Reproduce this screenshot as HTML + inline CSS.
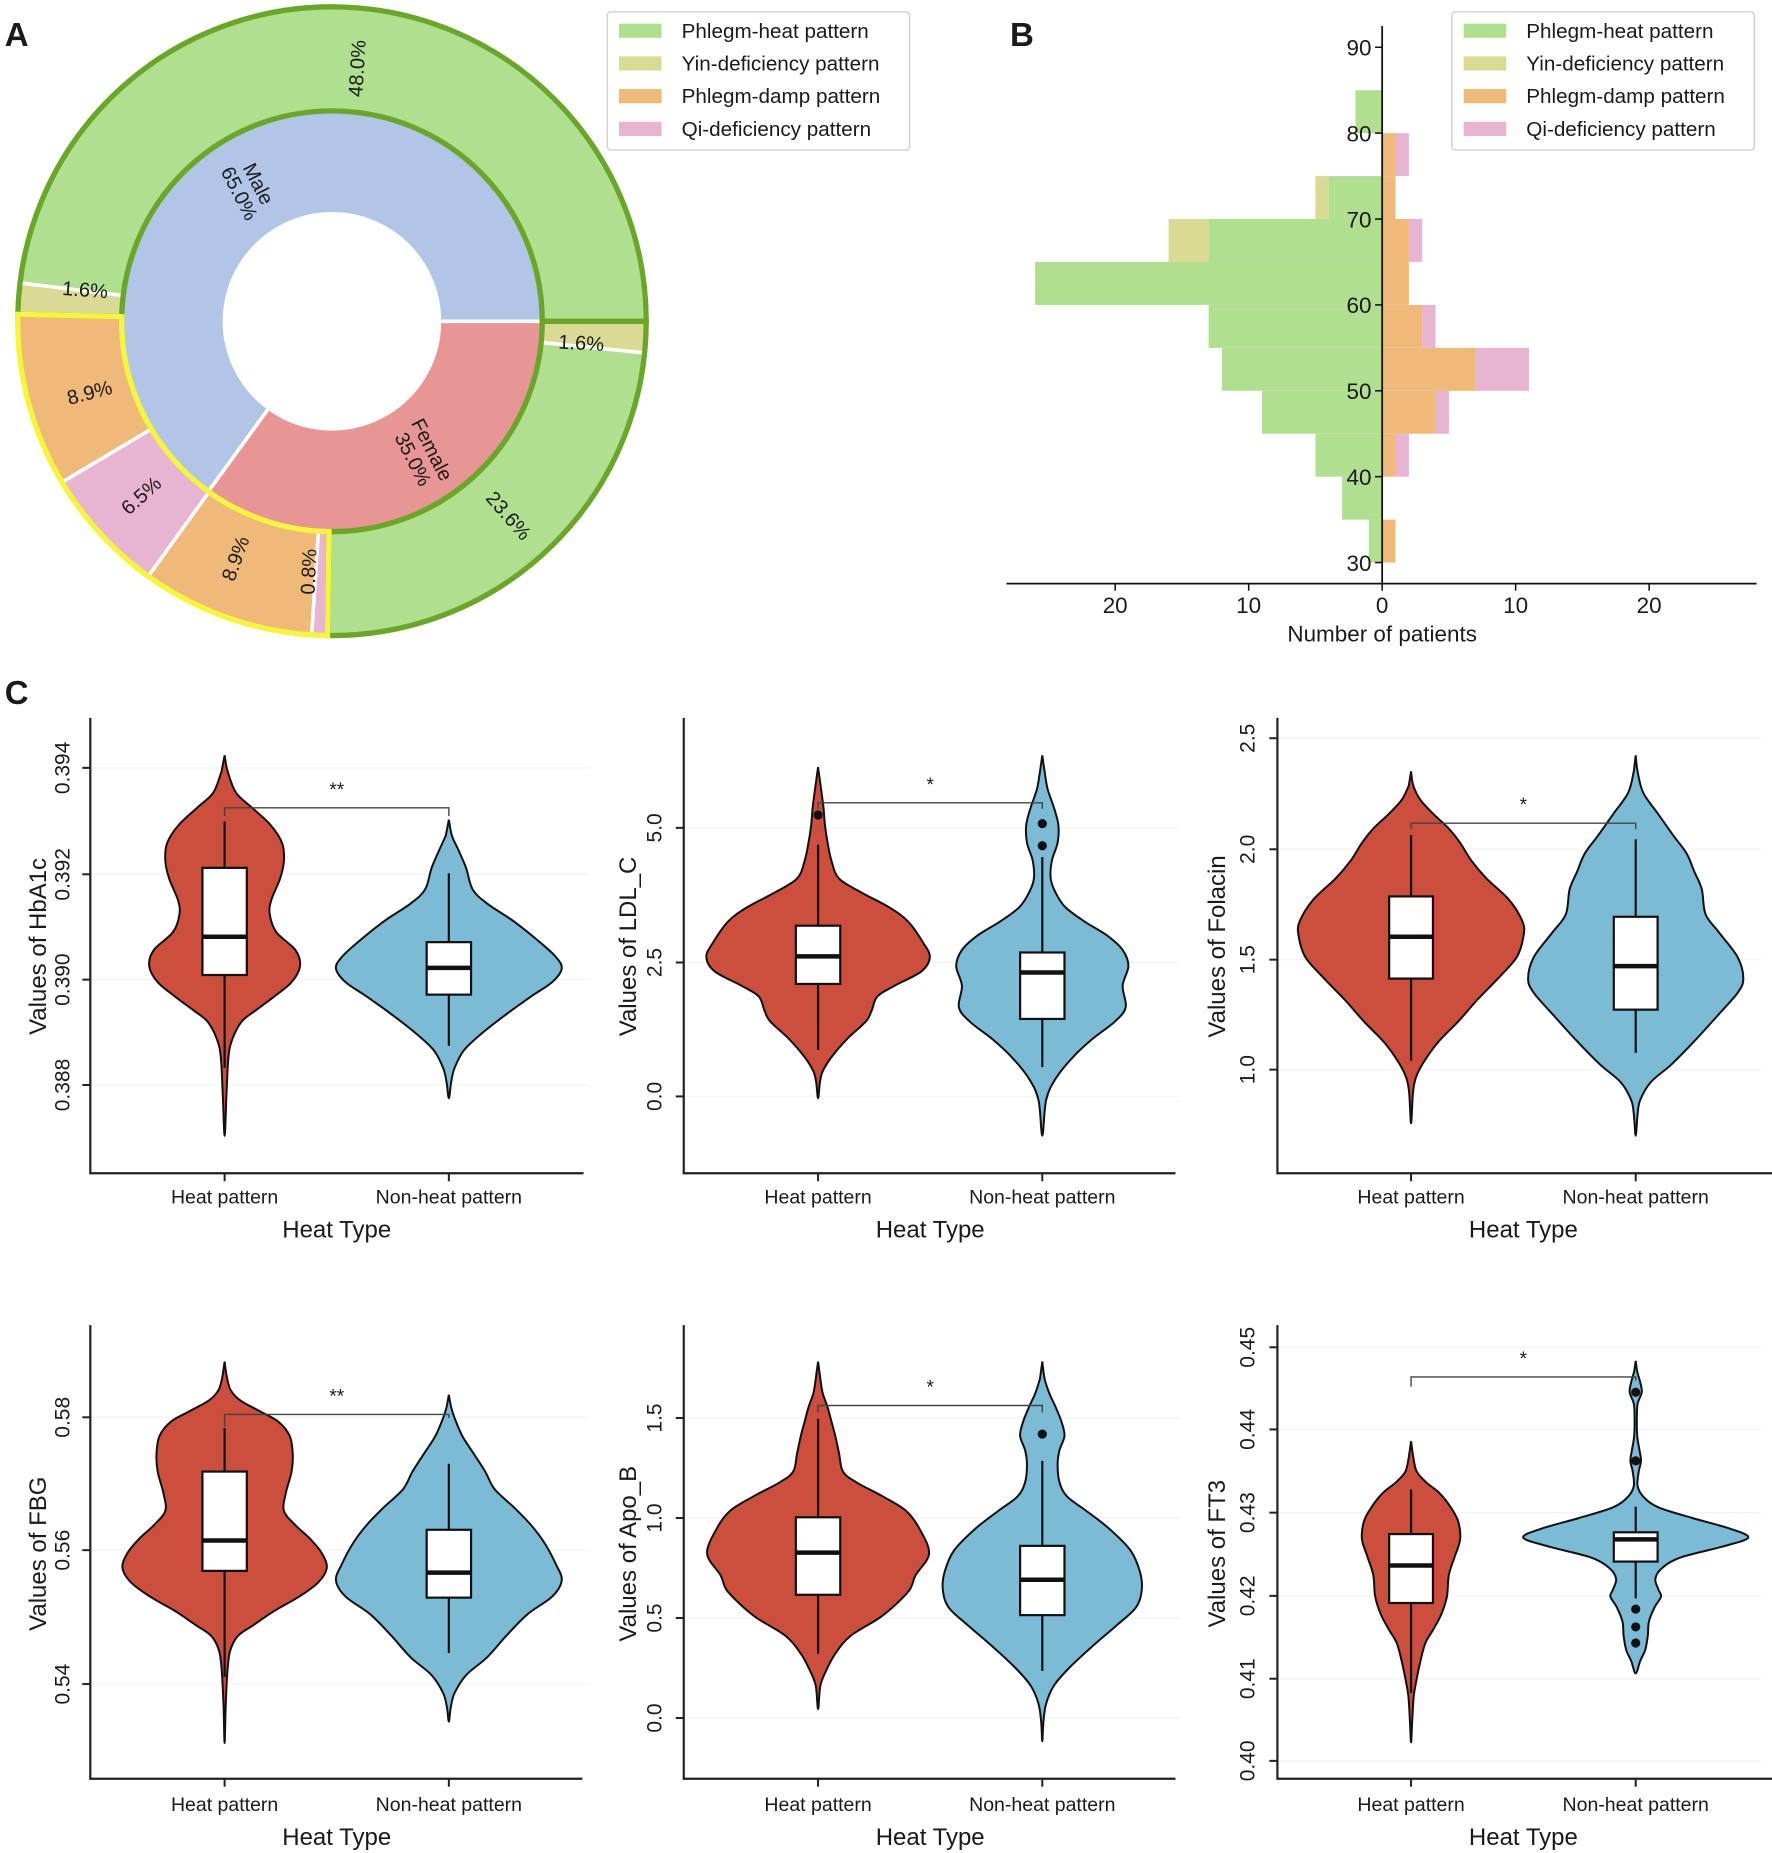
<!DOCTYPE html>
<html><head><meta charset="utf-8"><style>
html,body{margin:0;padding:0;background:#fff}
svg{display:block}
text{font-family:"Liberation Sans",Arial,sans-serif;fill:#1a1a1a}
</style></head><body>
<svg id="s" xmlns="http://www.w3.org/2000/svg" width="1772" height="1853" viewBox="0 0 1772 1853"></svg>
<script>
const out=[];const late=[];
const f=n=>n.toFixed(2);
const K=1772/1500;
let g=[];
const cx=281,cy=272,R0=266,R1=178,R2=91;
function pt(r,a){a=a*Math.PI/180;return [cx+r*Math.cos(a),cy-r*Math.sin(a)];}
function wedge(r1,r2,a1,a2){
 const p1=pt(r2,a1),p2=pt(r2,a2),p3=pt(r1,a2),p4=pt(r1,a1);const lg=(a2-a1)>180?1:0;
 return `M${f(p1[0])},${f(p1[1])} A${r2},${r2} 0 ${lg} 0 ${f(p2[0])},${f(p2[1])} L${f(p3[0])},${f(p3[1])} A${r1},${r1} 0 ${lg} 1 ${f(p4[0])},${f(p4[1])} Z`;}
const C={heat:'#b1df90',yin:'#dada94',damp:'#efb97a',qi:'#e7b5d2',male:'#b1c5e6',fem:'#e89595'};
const vals=[[48.0,'heat'],[1.6,'yin'],[8.9,'damp'],[6.5,'qi'],[8.9,'damp'],[0.8,'qi'],[23.6,'heat'],[1.6,'yin']];
const tot=vals.reduce((a,b)=>a+b[0],0);let a=0;const bounds=[0];
vals.forEach(v=>{const a2=a+v[0]/tot*360;g.push(`<path d="${wedge(R1,R0,a,a2)}" fill="${C[v[1]]}" stroke="#fff" stroke-width="3"/>`);a=a2;bounds.push(a);});
g.push(`<path d="${wedge(R2,R1,0,234)}" fill="${C.male}" stroke="#fff" stroke-width="3"/>`);
g.push(`<path d="${wedge(R2,R1,234,360)}" fill="${C.fem}" stroke="#fff" stroke-width="3"/>`);
g.push(`<path d="${wedge(R1,R0,0,bounds[2])}" fill="none" stroke="#6aa628" stroke-width="4.5"/>`);
g.push(`<path d="${wedge(R1,R0,bounds[6],359.99)}" fill="none" stroke="#6aa628" stroke-width="4.5"/>`);
g.push(`<path d="${wedge(R1,R0,bounds[2],bounds[6])}" fill="none" stroke="#f5f53c" stroke-width="4.5"/>`);
function lab(x,y,rot,t,fs=17){g.push(`<text x="${x}" y="${y}" font-size="${fs}" text-anchor="middle" dominant-baseline="central" transform="rotate(${rot} ${x} ${y})">${t}</text>`);}
lab(303,58,-86.4,'48.0%');lab(72,246,4.3,'1.6%');lab(76,333,-14.6,'8.9%');lab(120,420,-42,'6.5%');
lab(200,473,-70,'8.9%');lab(262,484,-87.5,'0.8%');lab(430,437,49,'23.6%');lab(492,291,3.2,'1.6%');
g.push(`<text font-size="17" text-anchor="middle" transform="translate(210,160) rotate(63)"><tspan x="0" y="-4">Male</tspan><tspan x="0" y="14">65.0%</tspan></text>`);
g.push(`<text font-size="17" text-anchor="middle" transform="translate(357,385) rotate(63)"><tspan x="0" y="-4">Female</tspan><tspan x="0" y="14">35.0%</tspan></text>`);
function legend(x){
 g.push(`<rect x="${x}" y="10" width="256" height="117" rx="3" fill="#fff" stroke="#d0d0d0" stroke-width="1.2"/>`);
 [['Phlegm-heat pattern','heat'],['Yin-deficiency pattern','yin'],['Phlegm-damp pattern','damp'],['Qi-deficiency pattern','qi']].forEach((e,i)=>{
  const y=26+i*27.7;g.push(`<rect x="${x+10}" y="${y-6}" width="36" height="12" fill="${C[e[1]]}"/>`);
  g.push(`<text x="${x+63}" y="${y+6}" font-size="17.5">${e[0]}</text>`);});}
legend(514);
const X0=1170,U=11.3,Ya=age=>40+(90-age)*7.27;
const bins=[[85,2,0,0,0],[80,0,0,1,1],[75,4,1,1,0],[70,13,3,2,1],[65,26,0,2,0],[60,13,0,3,1],[55,12,0,7,4],[50,9,0,4,1],[45,5,0,1,1],[40,3,0,0,0],[35,1,0,1,0]];
bins.forEach(b=>{const yt=Ya(b[0]),h=Ya(b[0]-5)-yt;
 if(b[1])g.push(`<rect x="${X0-b[1]*U}" y="${yt}" width="${b[1]*U}" height="${h}" fill="${C.heat}"/>`);
 if(b[2])g.push(`<rect x="${X0-(b[1]+b[2])*U}" y="${yt}" width="${b[2]*U}" height="${h}" fill="${C.yin}"/>`);
 if(b[3])g.push(`<rect x="${X0}" y="${yt}" width="${b[3]*U}" height="${h}" fill="${C.damp}"/>`);
 if(b[4])g.push(`<rect x="${X0+b[3]*U}" y="${yt}" width="${b[4]*U}" height="${h}" fill="${C.qi}"/>`);});
g.push(`<line x1="${X0}" y1="22" x2="${X0}" y2="494" stroke="#111" stroke-width="1.5"/>`);
g.push(`<line x1="852" y1="494" x2="1487" y2="494" stroke="#111" stroke-width="1.5"/>`);
[30,40,50,60,70,80,90].forEach(v=>{const y=Ya(v);g.push(`<line x1="${X0-6}" y1="${y}" x2="${X0}" y2="${y}" stroke="#111" stroke-width="1.3"/>`);
 g.push(`<text x="${X0-9}" y="${y+7}" font-size="19" text-anchor="end">${v}</text>`);});
[[-20,'20'],[-10,'10'],[0,'0'],[10,'10'],[20,'20']].forEach(t=>{const x=X0+t[0]*U;g.push(`<line x1="${x}" y1="494" x2="${x}" y2="500" stroke="#111" stroke-width="1.3"/>`);
 g.push(`<text x="${x}" y="519" font-size="19" text-anchor="middle">${t[1]}</text>`);});
g.push(`<text x="${X0}" y="543" font-size="19" text-anchor="middle">Number of patients</text>`);
legend(1229);
g.push(`<text x="4" y="39" font-size="28" font-weight="bold">A</text>`);
g.push(`<text x="855" y="39" font-size="28" font-weight="bold">B</text>`);
g.push(`<text x="4" y="596" font-size="28" font-weight="bold">C</text>`);
out.push(`<g transform="scale(${K})">${g.join('')}</g>`);

function mk(x0,y0,W){const sx=W/1568,sy=560/1568;return {X:z=>x0+z*sx,Y:z=>y0+z*sy};}
function smooth(P){let d=`M${f(P[0][0])},${f(P[0][1])}`;const n=P.length;
 for(let i=0;i<n-1;i++){const p0=P[i-1]||P[i],p1=P[i],p2=P[i+1],p3=P[i+2]||P[i+1];
  const c1=[p1[0]+(p2[0]-p0[0])/6,p1[1]+(p2[1]-p0[1])/6],c2=[p2[0]-(p3[0]-p1[0])/6,p2[1]-(p3[1]-p1[1])/6];
  d+=` C${f(c1[0])},${f(c1[1])} ${f(c2[0])},${f(c2[1])} ${f(p2[0])},${f(p2[1])}`;}return d+'Z';}
function violin(p,c,top,pts,bot,col){
 const R=[[p.X(c),p.Y(top)]];pts.forEach(q=>R.push([p.X(c+q[1]),p.Y(q[0])]));R.push([p.X(c),p.Y(bot)]);
 for(let i=pts.length-1;i>=0;i--)R.push([p.X(c-pts[i][1]),p.Y(pts[i][0])]);
 out.push(`<path d="${smooth(R)}" fill="${col}" stroke="#111" stroke-width="2"/>`);}
function box(p,c,wt,wb,bt,bb,med,hw=58){
 out.push(`<line x1="${p.X(c)}" y1="${p.Y(wt)}" x2="${p.X(c)}" y2="${p.Y(wb)}" stroke="#111" stroke-width="2.2"/>`);
 out.push(`<rect x="${p.X(c-hw)}" y="${p.Y(bt)}" width="${p.X(c+hw)-p.X(c-hw)}" height="${p.Y(bb)-p.Y(bt)}" fill="#fff" stroke="#111" stroke-width="2.2"/>`);
 out.push(`<line x1="${p.X(c-hw)}" y1="${p.Y(med)}" x2="${p.X(c+hw)}" y2="${p.Y(med)}" stroke="#111" stroke-width="4.5"/>`);}
function dot(p,x,y){out.push(`<circle cx="${p.X(x)}" cy="${p.Y(y)}" r="4.6" fill="#111"/>`);}
function frame(p,o){
 const ax=o.ax,bt=o.bottom,tp=o.top,h=o.h,nh=o.nh;
 o.ticks.forEach(t=>{const y=p.Y(t[0]);
  out.push(`<line x1="${p.X(ax)}" y1="${y}" x2="${p.X(1540)}" y2="${y}" stroke="#f3f3f3" stroke-width="1.2"/>`);
  out.push(`<line x1="${p.X(ax)-8}" y1="${y}" x2="${p.X(ax)}" y2="${y}" stroke="#222" stroke-width="2"/>`);
  const tx=p.X(o.tlx);out.push(`<text x="${tx}" y="${y}" font-size="21" fill="#333" text-anchor="middle" dominant-baseline="central" transform="rotate(-90 ${tx} ${y})">${t[1]}</text>`);});
 out.push(`<polyline points="${p.X(ax)},${p.Y(tp)} ${p.X(ax)},${p.Y(bt)} ${p.X(o.right)},${p.Y(bt)}" fill="none" stroke="#222" stroke-width="2.2"/>`);
 [h,nh].forEach(c=>out.push(`<line x1="${p.X(c)}" y1="${p.Y(bt)}" x2="${p.X(c)}" y2="${p.Y(bt)+8}" stroke="#222" stroke-width="2"/>`));
 out.push(`<text x="${p.X(h)}" y="${p.Y(o.xl)}" font-size="19.5" fill="#333" text-anchor="middle">Heat pattern</text>`);
 out.push(`<text x="${p.X(nh)}" y="${p.Y(o.xl)}" font-size="19.5" fill="#333" text-anchor="middle">Non-heat pattern</text>`);
 out.push(`<text x="${p.X((h+nh)/2)}" y="${p.Y(o.xt)}" font-size="24" fill="#222" text-anchor="middle">Heat Type</text>`);
 const lx=p.X(100),ly=p.Y(o.yly);out.push(`<text x="${lx}" y="${ly}" font-size="24" fill="#222" text-anchor="middle" dominant-baseline="central" transform="rotate(-90 ${lx} ${ly})">${o.ylab}</text>`);
 const b=o.br;late.push(`<polyline points="${p.X(h)},${p.Y(b[1])} ${p.X(h)},${p.Y(b[0])} ${p.X(nh)},${p.Y(b[0])} ${p.X(nh)},${p.Y(b[2])}" fill="none" stroke="#444" stroke-width="1.4"/>`);
 late.push(`<text x="${p.X((h+nh)/2)}" y="${p.Y(b[0])-12}" font-size="19" fill="#222" text-anchor="middle">${o.star}</text>`);}
const RED='#cb4f3c',BLU='#7bbbd5';
let p=mk(0,700,600);
frame(p,{ax:236,top:50,bottom:1325,right:1525,h:587,nh:1173,tlx:165,xl:1410,xt:1505,yly:690,ylab:'Values of HbA1c',
 ticks:[[190,'0.394'],[488,'0.392'],[783,'0.390'],[1078,'0.388']],br:[302,325,325],star:'**'});
violin(p,587,155,[[200,8],[260,30],[300,70],[350,120],[400,150],[450,155],[500,145],[560,122],[600,118],[650,135],[700,185],[745,197],[790,175],[830,130],[870,80],[900,45],[950,20],[1000,10],[1100,5]],1220,RED);
violin(p,1173,335,[[380,8],[420,25],[470,45],[530,62],[570,100],[620,170],[680,240],[720,280],[752,295],[790,270],[830,215],[880,150],[930,90],[980,40],[1030,15],[1070,6]],1115,BLU);
box(p,587,340,1030,470,770,663);box(p,1173,485,968,678,825,750);
p=mk(590,700,600);
frame(p,{ax:245,top:50,bottom:1325,right:1530,h:596,nh:1182,tlx:170,xl:1410,xt:1505,yly:690,ylab:'Values of LDL_C',
 ticks:[[358,'5.0'],[735,'2.5'],[1110,'0.0']],br:[288,305,305],star:'*'});
violin(p,596,188,[[250,8],[300,14],[350,18],[400,25],[450,35],[500,55],[540,115],[580,185],[620,235],[680,275],[720,292],[760,270],[800,200],[830,155],[870,140],[900,125],[950,75],[1000,35],[1040,12],[1070,5]],1115,RED);
violin(p,1182,155,[[200,6],[250,14],[300,30],[350,42],[400,40],[450,25],[500,22],[540,35],[580,60],[620,110],[660,170],[700,210],[745,225],[800,210],[860,218],[900,190],[950,130],[1000,80],[1060,35],[1120,10]],1220,BLU);
box(p,596,405,980,632,795,718);box(p,1182,440,1028,707,893,763);
dot(p,596,322);dot(p,1182,346);dot(p,1182,408);
p=mk(1180,700,592);
frame(p,{ax:258,top:50,bottom:1325,right:1568,h:612,nh:1207,tlx:180,xl:1410,xt:1505,yly:690,ylab:'Values of Folacin',
 ticks:[[107,'2.5'],[418,'2.0'],[727,'1.5'],[1035,'1.0']],br:[345,362,362],star:'*'});
violin(p,612,200,[[240,6],[280,25],[320,60],[360,100],[400,130],[450,160],[500,200],[560,260],[620,295],[660,298],[720,280],[780,230],[840,175],[900,125],[960,70],[1020,30],[1060,12],[1100,5]],1185,RED);
violin(p,1207,155,[[200,5],[260,20],[320,60],[380,100],[430,135],[480,155],[530,175],[600,185],[650,220],[720,270],[780,285],[820,270],[880,220],[950,160],[1020,95],[1070,40],[1120,12],[1160,5]],1220,BLU);
box(p,612,378,1010,550,780,663);box(p,1207,390,988,607,867,745);
p=mk(0,1293,600);
frame(p,{ax:236,top:90,bottom:1360,right:1522,h:587,nh:1173,tlx:165,xl:1450,xt:1545,yly:730,ylab:'Values of FBG',
 ticks:[[348,'0.58'],[720,'0.56'],[1095,'0.54']],br:[340,375,350],star:'**'});
violin(p,587,192,[[230,5],[270,15],[300,40],[330,90],[360,140],[400,170],[450,178],[500,175],[560,160],[610,155],[650,185],[690,225],[730,255],[770,267],[810,245],[850,195],[890,130],[930,75],[960,35],[1000,15],[1050,8],[1150,3]],1260,RED);
violin(p,1173,285,[[320,6],[350,15],[400,35],[450,65],[500,95],[550,120],[600,170],[650,215],[700,250],[760,280],[805,295],[850,270],[900,205],[960,150],[1020,100],[1070,45],[1120,15],[1160,5]],1200,BLU);
box(p,587,378,1075,500,778,693);box(p,1173,478,1008,663,853,783);
p=mk(590,1293,600);
frame(p,{ax:245,top:90,bottom:1360,right:1530,h:596,nh:1182,tlx:170,xl:1450,xt:1545,yly:730,ylab:'Values of Apo_B',
 ticks:[[350,'1.5'],[630,'1.0'],[910,'0.5'],[1190,'0.0']],br:[315,335,335],star:'*'});
violin(p,596,192,[[240,6],[280,12],[320,25],[360,35],[400,45],[450,55],[500,65],[530,100],[570,170],[610,230],[660,265],[730,290],[790,255],[830,240],[870,205],[910,160],[960,85],[1010,45],[1060,20],[1100,6]],1165,RED);
violin(p,1182,192,[[240,6],[280,18],[320,35],[360,50],[400,58],[440,45],[480,40],[530,45],[570,65],[610,115],[660,175],[720,230],[780,255],[830,260],[880,245],[930,195],[990,130],[1050,70],[1100,30],[1150,10],[1200,3]],1255,BLU);
box(p,596,352,1010,628,845,727);box(p,1182,470,1058,708,902,803);
dot(p,1182,395);
p=mk(1180,1293,592);
frame(p,{ax:258,top:90,bottom:1360,right:1568,h:612,nh:1207,tlx:180,xl:1450,xt:1545,yly:730,ylab:'Values of FT3',
 ticks:[[152,'0.45'],[382,'0.44'],[615,'0.43'],[848,'0.42'],[1080,'0.41'],[1310,'0.40']],br:[235,262,245],star:'*'});
violin(p,612,415,[[460,6],[500,15],[530,40],[560,75],[600,105],[640,125],[690,130],[740,115],[790,100],[850,95],[900,80],[940,60],[980,38],[1030,25],[1080,15],[1130,7],[1200,3]],1258,RED);
violin(p,1207,190,[[220,4],[250,12],[278,16],[310,5],[350,3],[400,4],[440,10],[470,14],[500,8],[540,5],[570,20],[600,60],[630,150],[660,250],[685,298],[710,230],[740,120],[770,70],[800,52],[830,60],[850,67],[880,50],[920,35],[960,32],[1000,25],[1030,12]],1065,BLU);
box(p,612,550,1120,675,868,763);box(p,1207,598,855,670,752,690);
[278,470,885,935,980].forEach(y=>dot(p,1207,y));
document.getElementById('s').innerHTML=out.join('')+late.join('');
</script>
</body></html>
